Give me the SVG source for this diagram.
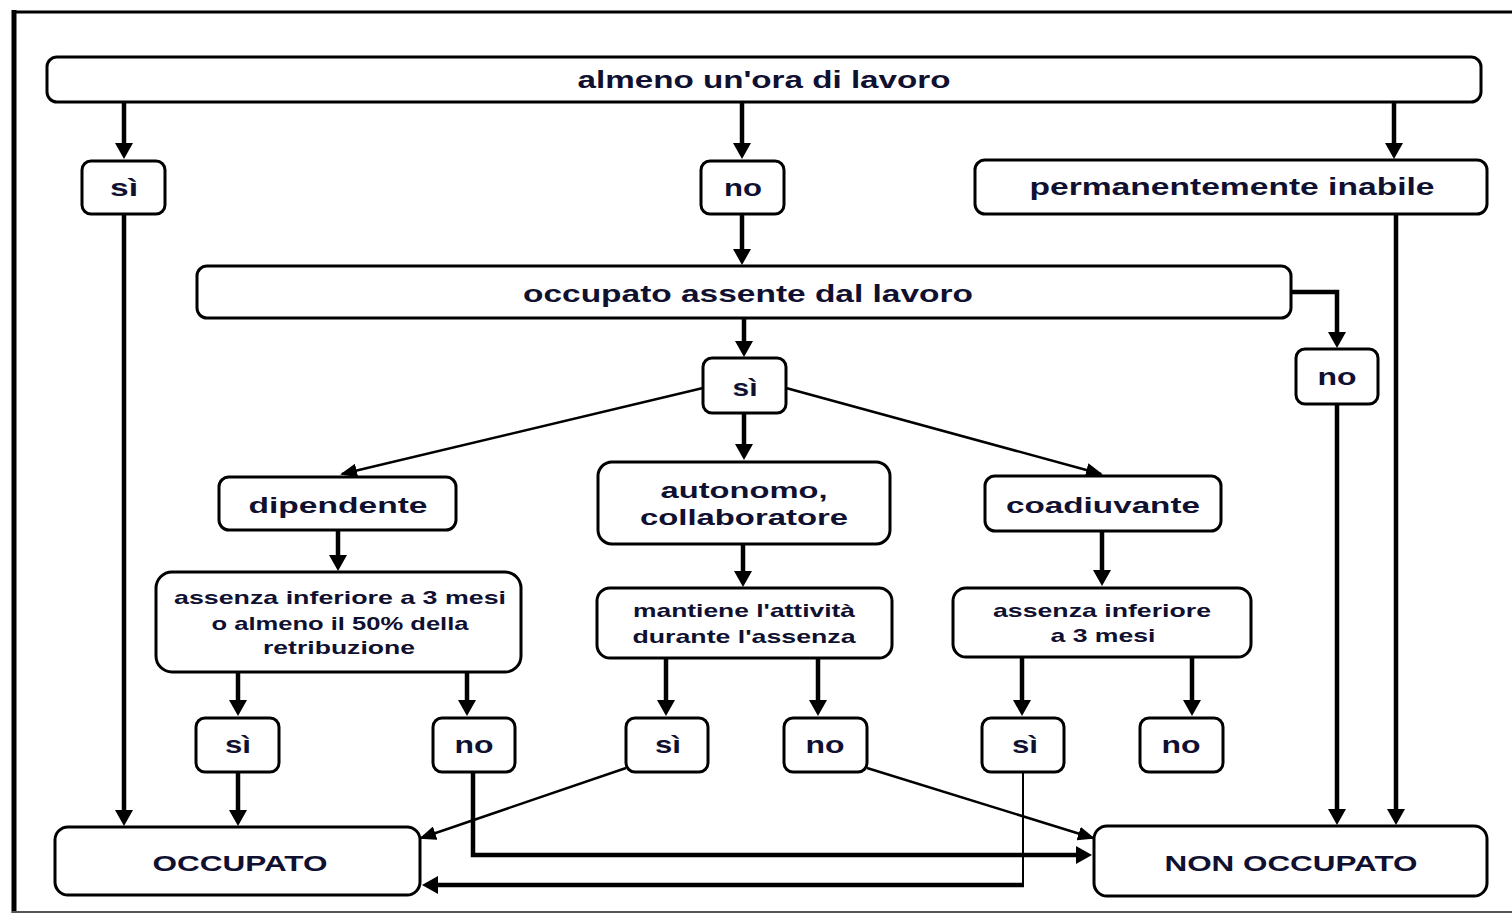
<svg xmlns="http://www.w3.org/2000/svg" width="1512" height="914" viewBox="0 0 1512 914">
<style>
.box{fill:#fff;stroke:#000;stroke-width:3}
.t{font-family:"Liberation Sans",Arial,sans-serif;font-weight:bold;fill:#101030;text-anchor:middle}
.L{font-size:24px}
.M{font-size:22px}
.S{font-size:19px}
.c{fill:none;stroke:#000;stroke-width:4.5}
.d{fill:none;stroke:#000;stroke-width:2.5}
</style>
<defs>
<marker id="a" markerUnits="userSpaceOnUse" markerWidth="16" markerHeight="18" viewBox="0 0 16 18" refX="11" refY="9" orient="auto"><path d="M0,0 L16,9 L0,18 Z" fill="#000"/></marker>
<marker id="s" markerUnits="userSpaceOnUse" markerWidth="17" markerHeight="14" viewBox="0 0 17 14" refX="15" refY="7" orient="auto"><path d="M0,0 L17,7 L0,14 Z" fill="#000"/></marker>
</defs>
<rect width="1512" height="914" fill="#fff"/>
<g id="frame">
<line x1="14" y1="10" x2="14" y2="913" stroke="#000" stroke-width="5"/>
<line x1="12" y1="12" x2="1512" y2="12" stroke="#000" stroke-width="3"/>
<line x1="12" y1="912" x2="1512" y2="912" stroke="#555" stroke-width="2"/>
</g>
<g id="connectors">
<path class="c" d="M124,102 V154" marker-end="url(#a)"/>
<path class="c" d="M742,102 V154" marker-end="url(#a)"/>
<path class="c" d="M1394,102 V154" marker-end="url(#a)"/>
<path class="c" d="M124,214 V821" marker-end="url(#a)"/>
<path class="c" d="M742,214 V260" marker-end="url(#a)"/>
<path class="c" d="M1396,214 V820" marker-end="url(#a)"/>
<path class="c" d="M1291,292 H1337 V343" marker-end="url(#a)"/>
<path class="c" d="M1337,404 V820" marker-end="url(#a)"/>
<path class="c" d="M744,318 V352" marker-end="url(#a)"/>
<path class="d" d="M703,388 L342,474" marker-end="url(#s)"/>
<path class="d" d="M786,388 L1101,474" marker-end="url(#s)"/>
<path class="c" d="M744,413 V455" marker-end="url(#a)"/>
<path class="c" d="M338,530 V566" marker-end="url(#a)"/>
<path class="c" d="M743,544 V582" marker-end="url(#a)"/>
<path class="c" d="M1102,531 V581" marker-end="url(#a)"/>
<path class="c" d="M238,672 V711" marker-end="url(#a)"/>
<path class="c" d="M467,672 V711" marker-end="url(#a)"/>
<path class="c" d="M666,658 V711" marker-end="url(#a)"/>
<path class="c" d="M818,658 V711" marker-end="url(#a)"/>
<path class="c" d="M1022,657 V711" marker-end="url(#a)"/>
<path class="c" d="M1192,657 V711" marker-end="url(#a)"/>
<path class="c" d="M238,772 V821" marker-end="url(#a)"/>
<path class="c" d="M473,772 V855 H1087" marker-end="url(#a)"/>
<path class="d" d="M626,768 L421,838" marker-end="url(#s)"/>
<path class="d" d="M867,768 L1093,838" marker-end="url(#s)"/>
<path fill="none" stroke="#000" stroke-width="2" d="M1023,772 V886"/>
<path class="c" d="M1024,885 H427" marker-end="url(#a)"/>
</g>
<g id="n-almeno"><rect class="box" x="47" y="57" width="1434" height="45" rx="10"/><text class="t L" x="764" y="88" textLength="373" lengthAdjust="spacingAndGlyphs">almeno un'ora di lavoro</text></g>
<g id="n-si1"><rect class="box" x="82" y="161" width="83" height="53" rx="9"/><text class="t L" x="124" y="196" textLength="28" lengthAdjust="spacingAndGlyphs">sì</text></g>
<g id="n-no1"><rect class="box" x="701" y="161" width="83" height="53" rx="9"/><text class="t L" x="743" y="196" textLength="38" lengthAdjust="spacingAndGlyphs">no</text></g>
<g id="n-inabile"><rect class="box" x="975" y="160" width="512" height="54" rx="10"/><text class="t L" x="1232" y="195" textLength="405" lengthAdjust="spacingAndGlyphs">permanentemente inabile</text></g>
<g id="n-assente"><rect class="box" x="197" y="266" width="1094" height="52" rx="10"/><text class="t L" x="748" y="302" textLength="450" lengthAdjust="spacingAndGlyphs">occupato assente dal lavoro</text></g>
<g id="n-no2"><rect class="box" x="1296" y="349" width="82" height="55" rx="9"/><text class="t L" x="1337" y="385" textLength="39" lengthAdjust="spacingAndGlyphs">no</text></g>
<g id="n-si2"><rect class="box" x="703" y="358" width="83" height="55" rx="9"/><text class="t L" x="745" y="396" textLength="25" lengthAdjust="spacingAndGlyphs">sì</text></g>
<g id="n-dipendente"><rect class="box" x="219" y="477" width="237" height="53" rx="10"/><text class="t M" x="338" y="513" textLength="179" lengthAdjust="spacingAndGlyphs">dipendente</text></g>
<g id="n-autonomo"><rect class="box" x="598" y="462" width="292" height="82" rx="14"/><text class="t M" x="744" y="498" textLength="167" lengthAdjust="spacingAndGlyphs">autonomo,</text><text class="t M" x="744" y="525" textLength="208" lengthAdjust="spacingAndGlyphs">collaboratore</text></g>
<g id="n-coadiuvante"><rect class="box" x="985" y="476" width="236" height="55" rx="10"/><text class="t M" x="1103" y="513" textLength="194" lengthAdjust="spacingAndGlyphs">coadiuvante</text></g>
<g id="n-assenza1"><rect class="box" x="156" y="572" width="365" height="100" rx="16"/><text class="t S" x="340" y="604" textLength="332" lengthAdjust="spacingAndGlyphs">assenza inferiore a 3 mesi</text><text class="t S" x="340" y="630" textLength="257" lengthAdjust="spacingAndGlyphs">o almeno il 50% della</text><text class="t S" x="339" y="654" textLength="152" lengthAdjust="spacingAndGlyphs">retribuzione</text></g>
<g id="n-mantiene"><rect class="box" x="597" y="588" width="295" height="70" rx="13"/><text class="t S" x="744" y="617" textLength="222" lengthAdjust="spacingAndGlyphs">mantiene l'attività</text><text class="t S" x="744" y="643" textLength="223" lengthAdjust="spacingAndGlyphs">durante l'assenza</text></g>
<g id="n-assenza3"><rect class="box" x="953" y="588" width="298" height="69" rx="13"/><text class="t S" x="1102" y="617" textLength="218" lengthAdjust="spacingAndGlyphs">assenza inferiore</text><text class="t S" x="1103" y="642" textLength="105" lengthAdjust="spacingAndGlyphs">a 3 mesi</text></g>
<g id="n-si-a"><rect class="box" x="196" y="718" width="83" height="54" rx="9"/><text class="t L" x="238" y="753" textLength="26" lengthAdjust="spacingAndGlyphs">sì</text></g>
<g id="n-no-a"><rect class="box" x="433" y="718" width="82" height="54" rx="9"/><text class="t L" x="474" y="753" textLength="39" lengthAdjust="spacingAndGlyphs">no</text></g>
<g id="n-si-b"><rect class="box" x="626" y="718" width="82" height="54" rx="9"/><text class="t L" x="668" y="753" textLength="26" lengthAdjust="spacingAndGlyphs">sì</text></g>
<g id="n-no-b"><rect class="box" x="784" y="718" width="83" height="54" rx="9"/><text class="t L" x="825" y="753" textLength="39" lengthAdjust="spacingAndGlyphs">no</text></g>
<g id="n-si-c"><rect class="box" x="982" y="718" width="82" height="54" rx="9"/><text class="t L" x="1025" y="753" textLength="26" lengthAdjust="spacingAndGlyphs">sì</text></g>
<g id="n-no-c"><rect class="box" x="1140" y="718" width="83" height="54" rx="9"/><text class="t L" x="1181" y="753" textLength="39" lengthAdjust="spacingAndGlyphs">no</text></g>
<g id="n-occupato"><rect class="box" x="55" y="827" width="365" height="68" rx="13"/><text class="t M" x="240" y="871" textLength="175" lengthAdjust="spacingAndGlyphs">OCCUPATO</text></g>
<g id="n-nonoccupato"><rect class="box" x="1094" y="826" width="393" height="70" rx="13"/><text class="t M" x="1291" y="871" textLength="253" lengthAdjust="spacingAndGlyphs">NON OCCUPATO</text></g>
</svg>
